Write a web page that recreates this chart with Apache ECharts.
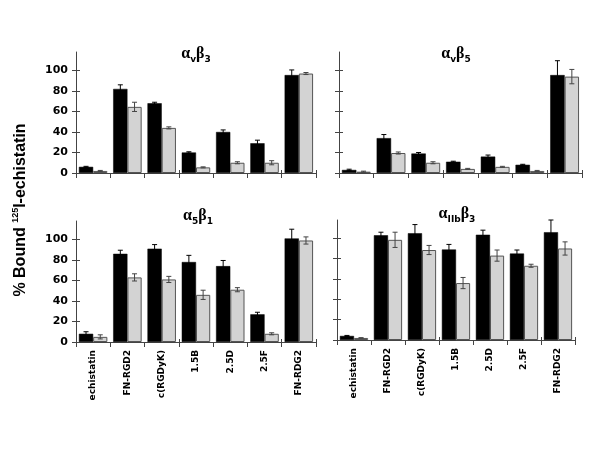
<!DOCTYPE html>
<html><head><meta charset="utf-8">
<script src="https://cdn.jsdelivr.net/npm/echarts@6/dist/echarts.min.js"></script>
<style>html,body{margin:0;padding:0;background:#fff}#c{width:601px;height:468px}</style>
</head><body><div id="c"></div>
<script>
const categories = ['echistatin','FN-RGD2','c(RGDyK)','1.5B','2.5D','2.5F','FN-RDG2'];
const yTicks = [0,20,40,60,80,100];

const avb3Black = [6, 82, 68, 20, 40, 29, 95.5];
const avb3BlackErr = [0.5, 4, 1, 0.7, 2, 3, 5];
const avb3Gray = [2, 64.5, 44, 5.5, 10, 10, 97];
const avb3GrayErr = [0.5, 4.5, 1, 0.5, 1, 2, 1];

const avb5Black = [3, 34, 19, 11, 16, 8, 95.5];
const avb5BlackErr = [0.7, 3.5, 1, 0.5, 1.5, 0.5, 14];
const avb5Gray = [1.3, 19.5, 10, 4, 6, 2, 94];
const avb5GrayErr = [0.5, 1, 1, 0.5, 0.5, 0.5, 7];

const a5b1Black = [8, 86, 91, 78, 74, 27, 101];
const a5b1BlackErr = [2, 3.5, 4, 6.5, 5.5, 2, 9];
const a5b1Gray = [5, 63, 61, 46, 51, 8, 99];
const a5b1GrayErr = [2, 3.5, 3, 4.5, 2, 1, 3.5];

const aiibBlack = [4, 103, 105, 89, 103.5, 85, 106];
const aiibBlackErr = [0.5, 3, 8.5, 5, 4.5, 3.5, 12];
const aiibGray = [2, 98.5, 88.5, 56, 83, 73, 90];
const aiibGrayErr = [0.3, 7.5, 4.5, 5.5, 5.5, 1.5, 6.5];

const panels = [
  {a:'v', b:'3', black:avb3Black, blackErr:avb3BlackErr, gray:avb3Gray, grayErr:avb3GrayErr,
   grid:{left:76, top:52, width:240, height:121}, yLab:true, xLab:false, tx:196, ty:54},
  {a:'v', b:'5', black:avb5Black, blackErr:avb5BlackErr, gray:avb5Gray, grayErr:avb5GrayErr,
   grid:{left:339, top:52, width:243, height:121}, yLab:false, xLab:false, tx:456, ty:54},
  {a:'5', b:'1', black:a5b1Black, blackErr:a5b1BlackErr, gray:a5b1Gray, grayErr:a5b1GrayErr,
   grid:{left:76, top:221, width:240, height:121}, yLab:true, xLab:true, tx:198, ty:216},
  {a:'IIb', b:'3', black:aiibBlack, blackErr:aiibBlackErr, gray:aiibGray, grayErr:aiibGrayErr,
   grid:{left:337, top:220, width:238, height:120}, yLab:false, xLab:true, tx:457, ty:214}
];

const GAP = 0.17;
const axisColor = '#444';
const grids = [], xAxes = [], yAxes = [], series = [], graphics = [];

function errRender(side, color) {
  return function (params, api) {
    const x = api.value(0), v = api.value(1), e = api.value(2);
    const band = api.size([1, 0])[0];
    const off = band * (1 - GAP) / 4 * side;
    const top = api.coord([x, v + e]);
    const bot = api.coord([x, Math.max(v - e, 0)]);
    const cx = top[0] + off;
    const cap = 2.5;
    const st = {stroke: color, lineWidth: 1};
    return {type: 'group', children: [
      {type: 'line', shape: {x1: cx, y1: top[1], x2: cx, y2: bot[1]}, style: st},
      {type: 'line', shape: {x1: cx - cap, y1: top[1], x2: cx + cap, y2: top[1]}, style: st},
      {type: 'line', shape: {x1: cx - cap, y1: bot[1], x2: cx + cap, y2: bot[1]}, style: st}
    ]};
  };
}

panels.forEach((p, i) => {
  grids.push(Object.assign({containLabel: false}, p.grid));
  const xi = xAxes.length, yi = yAxes.length;
  xAxes.push({
    type: 'category', gridIndex: i, data: categories, position: 'bottom',
    axisLine: {show: true, lineStyle: {color: axisColor, width: 1}},
    axisTick: {show: true, length: 5, lineStyle: {color: axisColor}},
    axisLabel: {show: p.xLab, rotate: 90, margin: 8, color: '#000',
      fontFamily: 'DejaVu Sans', fontWeight: 'bold', fontSize: 9}
  });
  xAxes.push({
    type: 'category', gridIndex: i, data: categories, position: 'bottom', offset: 0,
    axisLine: {show: false},
    axisTick: {show: true, inside: true, length: 3, lineStyle: {color: axisColor}},
    axisLabel: {show: false}
  });
  yAxes.push({
    type: 'value', gridIndex: i, min: 0, max: 118, position: 'left',
    splitLine: {show: false},
    axisLine: {show: true, lineStyle: {color: axisColor, width: 1}},
    axisTick: {show: true, length: 4, customValues: yTicks, lineStyle: {color: axisColor}},
    axisLabel: {show: p.yLab, customValues: yTicks, margin: 8, color: '#000',
      fontFamily: 'DejaVu Sans', fontWeight: 'bold', fontSize: 11}
  });
  yAxes.push({
    type: 'value', gridIndex: i, min: 0, max: 118, position: 'left', offset: 0,
    splitLine: {show: false},
    axisLine: {show: false},
    axisTick: {show: true, inside: true, length: 4, customValues: yTicks, lineStyle: {color: axisColor}},
    axisLabel: {show: false, customValues: yTicks}
  });
  series.push({
    type: 'bar', xAxisIndex: xi, yAxisIndex: yi, data: p.black,
    barGap: '0%', barCategoryGap: (GAP * 100) + '%',
    itemStyle: {color: '#000', borderColor: '#000', borderWidth: 0.5}, silent: true
  });
  series.push({
    type: 'bar', xAxisIndex: xi, yAxisIndex: yi, data: p.gray,
    barGap: '0%', barCategoryGap: (GAP * 100) + '%',
    itemStyle: {color: '#d3d3d3', borderColor: '#555', borderWidth: 1}, silent: true
  });
  series.push({
    type: 'custom', xAxisIndex: xi, yAxisIndex: yi, z: 5, silent: true,
    renderItem: errRender(-1, '#000'),
    encode: {x: 0, y: 1},
    data: p.black.map((v, k) => [k, v, p.blackErr[k]])
  });
  series.push({
    type: 'custom', xAxisIndex: xi, yAxisIndex: yi, z: 5, silent: true,
    renderItem: errRender(1, '#444'),
    encode: {x: 0, y: 1},
    data: p.gray.map((v, k) => [k, v, p.grayErr[k]])
  });
  graphics.push({
    type: 'text', x: p.tx, y: p.ty,
    style: {
      text: '{g|α}{s|' + p.a + '}{g|β}{s|' + p.b + '}',
      align: 'center', verticalAlign: 'middle',
      rich: {
        g: {fontFamily: 'Liberation Serif', fontWeight: 'bold', fontSize: 16, lineHeight: 20, fill: '#000', color: '#000'},
        s: {fontFamily: 'DejaVu Sans', fontWeight: 'bold', fontSize: 9, lineHeight: 11, verticalAlign: 'bottom', fill: '#000', color: '#000'}
      }
    }
  });
});

graphics.push({
  type: 'text', x: 21, y: 210, rotation: Math.PI / 2,
  style: {
    text: '{a|% Bound }{s|125}{a|I-echistatin}',
    align: 'center', verticalAlign: 'middle',
    rich: {
      a: {fontFamily: 'Liberation Sans', fontWeight: 'bold', fontSize: 16, lineHeight: 19, fill: '#000', color: '#000'},
      s: {fontFamily: 'Liberation Sans', fontWeight: 'bold', fontSize: 9, lineHeight: 9, verticalAlign: 'top', fill: '#000', color: '#000'}
    }
  }
});

const chart = echarts.init(document.getElementById('c'), null, {renderer: 'canvas'});
chart.setOption({
  animation: false,
  backgroundColor: '#fff',
  grid: grids, xAxis: xAxes, yAxis: yAxes, series: series, graphic: graphics
});
</script>
</body></html>
